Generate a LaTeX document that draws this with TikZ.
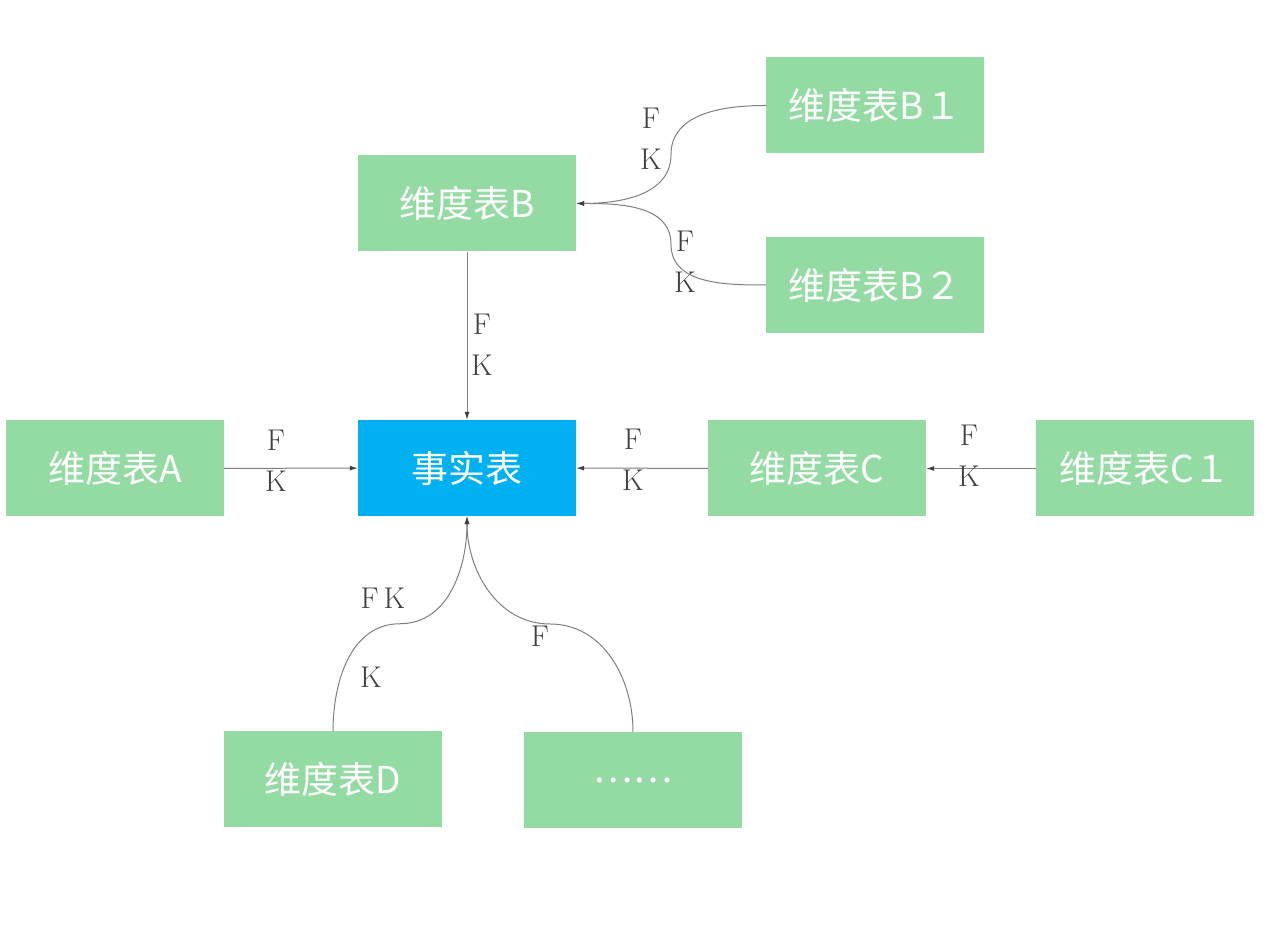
\documentclass[tikz,border=0pt]{standalone}
\usepackage{fontspec}
\newfontfamily\cjk{Noto Sans CJK SC}
\usetikzlibrary{arrows.meta, calc}
\definecolor{dimgreen}{HTML}{94DBA3}
\definecolor{factblue}{HTML}{00B0F0}
\definecolor{inkline}{HTML}{7F7F7F}
\definecolor{inklabel}{HTML}{404040}
\tikzset{
  dimbox/.style={fill=dimgreen, text=white, minimum width=218pt,
    minimum height=96pt, inner sep=0pt, font=\cjk\fontsize{37}{40}\selectfont},
  factbox/.style={dimbox, fill=factblue},
  fk/.style={text=inklabel, align=center, inner sep=0pt,
    font=\fontsize{30}{41}\selectfont},
  link/.style={draw=inkline, line width=1pt,
    -{Latex[length=8pt,width=5pt,color=inklabel]}},
}

\begin{document}
\begin{tikzpicture}[x=1pt, y=1pt]
  \useasboundingbox (0,0) rectangle (1272,934);
  \node[factbox] (fact) at (467,466) {事实表};
  \foreach \name/\x/\y/\lab in {dimA/115/465.5/维度表A,
      dimB/467/730.5/维度表B, dimBa/875/828.5/维度表B１,
      dimBb/875/649/维度表B２, dimC/817/465.5/维度表C,
      dimCa/1145/465.5/维度表C１, dimD/333/154.5/维度表D,
      more/633/154/……}{%
    \node[dimbox] (\name) at (\x,\y) {\lab};}
  % straight keys
  \draw[link] (dimB) -- (fact);
  \draw[link] (dimA) -- (fact);
  \draw[link] (dimC) -- (fact);
  \draw[link] (dimCa) -- (dimC);
  % curved keys, bent at the half way point
  \coordinate (midBa) at ($(dimBa.west)!.5!(dimB.east)$);
  \coordinate (midBb) at ($(dimBb.west)!.5!(dimB.east)$);
  \coordinate (midD) at ($(dimD.north)!.5!(fact.south)$);
  \coordinate (midM) at ($(more.north)!.5!(fact.south)$);
  \draw[link] (dimBa.west) to[out=180, in=90] (midBa)
    to[out=-90, in=0] (dimB.east);
  \draw[link] (dimBb.west) to[out=180, in=-90] (midBb)
    to[out=90, in=0] (dimB.east);
  \draw[link] (dimD.north) to[out=90, in=180] (midD)
    to[out=0, in=-90] (fact.south);
  \draw[link] (more.north) to[out=90, in=0] (midM)
    to[out=180, in=-90] (fact.south);
  % labels
  \node[fk] (fkB) at (482,589) {F\\K};
  \node[fk] (fkA) at (276,473) {F\\K};
  \node[fk] (fkC) at (633,474) {F\\K};
  \node[fk] (fkCa) at (969,478) {F\\K};
  \node[fk] (fkBa) at (651,795) {F\\K};
  \node[fk] (fkBb) at (685,672.5) {F\\K};
  \node[fk] (fkD) at (383,336) {F\,K};
  \node[fk] (fkDb) at (371,257) {K};
  \node[fk] (fkM) at (540,298) {F};
\end{tikzpicture}
\end{document}
